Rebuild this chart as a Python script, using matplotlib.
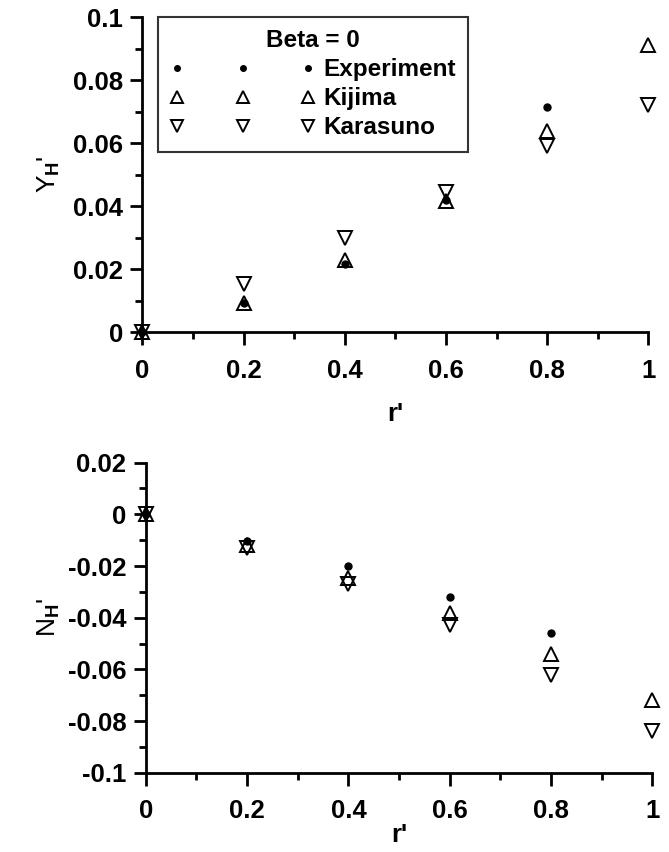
import numpy as np
import matplotlib
matplotlib.use("Agg")
import matplotlib.pyplot as plt
from matplotlib.ticker import MultipleLocator, FuncFormatter

plt.rcParams['font.family'] = ['Liberation Sans', 'DejaVu Sans']
plt.rcParams['font.weight'] = 'bold'
plt.rcParams['mathtext.fontset'] = 'custom'
plt.rcParams['mathtext.rm'] = 'Liberation Sans:bold'
plt.rcParams['mathtext.it'] = 'Liberation Sans:bold'
plt.rcParams['mathtext.bf'] = 'Liberation Sans:bold'

r = [0.0, 0.2, 0.4, 0.6, 0.8, 1.0]

# lateral force Y_H'
yh_exp = [0.0, 0.0093, 0.0217, 0.042, 0.0715]
yh_kij = [0.0, 0.0093, 0.023, 0.0415, 0.064, 0.091]
yh_kar = [0.0, 0.0154, 0.030, 0.0445, 0.059, 0.072]

# yaw moment N_H'
nh_exp = [0.0, -0.0103, -0.020, -0.032, -0.046]
nh_kij = [0.0, -0.012, -0.0245, -0.038, -0.054, -0.072]
nh_kar = [0.0, -0.013, -0.027, -0.043, -0.062, -0.084]

fig = plt.figure(figsize=(6.69, 8.52), dpi=100)
ax1 = fig.add_axes([0.213, 0.610, 0.756, 0.370])
ax2 = fig.add_axes([0.218, 0.093, 0.757, 0.364])


def fmt(v, pos):
    if abs(v) < 1e-9:
        return '0'
    return '%g' % round(v, 3)


def style(ax, ymin, ymax, ymajor, yminor, xlabpad):
    for s in ['top', 'right']:
        ax.spines[s].set_visible(False)
    for s in ['left', 'bottom']:
        ax.spines[s].set_linewidth(2.0)
    ax.set_xlim(0, 1)
    ax.set_ylim(ymin, ymax)
    ax.xaxis.set_major_locator(MultipleLocator(0.2))
    ax.xaxis.set_minor_locator(MultipleLocator(0.1))
    ax.yaxis.set_major_locator(MultipleLocator(ymajor))
    ax.yaxis.set_minor_locator(MultipleLocator(yminor))
    ax.tick_params(which='major', direction='out', length=9, width=2, labelsize=18.5)
    ax.tick_params(axis='x', which='major', pad=10)
    ax.tick_params(axis='y', which='major', pad=5)
    ax.tick_params(which='minor', direction='out', length=5, width=2)
    ax.set_xlabel("r'", fontsize=18.5, fontweight='bold', labelpad=xlabpad)
    ax.xaxis.set_major_formatter(FuncFormatter(fmt))
    ax.yaxis.set_major_formatter(FuncFormatter(fmt))


def draw(ax, e, k, c):
    ax.plot(r[:len(e)], e, 'o', color='black', ms=5, label='Experiment', clip_on=False)
    ax.plot(r, k, '^', mfc='none', mec='black', mew=1.4, ms=10, label='Kijima', clip_on=False)
    ax.plot(r, c, 'v', mfc='none', mec='black', mew=1.4, ms=10, label='Karasuno', clip_on=False)


draw(ax1, yh_exp, yh_kij, yh_kar)
style(ax1, 0, 0.1, 0.02, 0.01, 14)
ax1.set_ylabel("Y$_\\mathrm{H}$'", fontsize=19, labelpad=8)
leg = ax1.legend(loc='upper left', bbox_to_anchor=(0.03, 1.0), borderaxespad=0,
                 numpoints=3, title='Beta = 0', fontsize=17.5,
                 title_fontproperties={'size': 17.5, 'weight': 'bold'},
                 frameon=True, fancybox=False, edgecolor='black', handlelength=6.0,
                 handletextpad=0.3, borderpad=0.5, labelspacing=0.25, markerscale=0.8)
leg.get_frame().set_linewidth(1.5)
leg.get_frame().set_facecolor('white')

draw(ax2, nh_exp, nh_kij, nh_kar)
style(ax2, -0.1, 0.02, 0.02, 0.01, 0)
ax2.set_ylabel("N$_\\mathrm{H}$'", fontsize=19, labelpad=4)

fig.savefig('out.png', dpi=100)
